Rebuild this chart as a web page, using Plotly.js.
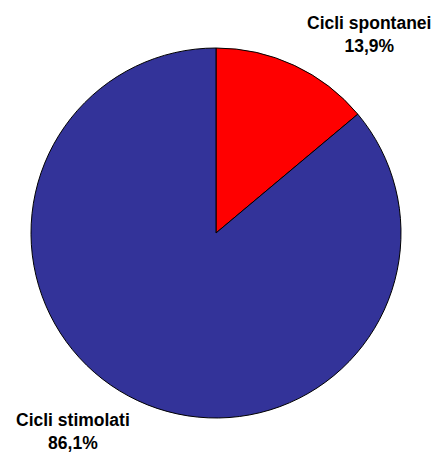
<!DOCTYPE html>
<html>
<head>
<meta charset="utf-8">
<script src="https://cdn.plot.ly/plotly-3.0.1.min.js"></script>
<style>
  html, body { margin: 0; padding: 0; background: #fff; }
  #chart { width: 439px; height: 454px; }
</style>
</head>
<body>
<div id="chart"></div>
<script>
// Data
const labels = ['Cicli spontanei', 'Cicli stimolati'];
const values = [13.9, 86.1];
const colors = ['#ff0000', '#333399'];

// Label positions (paper coords) for the outside labels
const labelX = [368.5 / 439, 72.5 / 439];
const labelY = [1 - 34 / 454, 1 - 431 / 454];

const fmt = v => v.toFixed(1).replace('.', ',') + '%';

const trace = {
    type: 'pie',
    labels: labels,
    values: values,
    sort: false,
    direction: 'clockwise',
    rotation: 0,
    textinfo: 'none',
    hoverinfo: 'none',
    showlegend: false,
    marker: { colors: colors, line: { color: '#000000', width: 1 } },
    domain: { x: [31 / 439, 401 / 439], y: [1 - 418 / 454, 1 - 48 / 454] }
};

const annotations = labels.map((l, i) => ({
    xref: 'paper', yref: 'paper',
    x: labelX[i], y: labelY[i],
    xanchor: 'center', yanchor: 'middle',
    showarrow: false,
    align: 'center',
    borderpad: 0,
    text: '<b>' + l + '<br>' + fmt(values[i]) + '</b>',
    font: { family: 'Liberation Sans, Arial, sans-serif', size: 17.5, color: '#000' }
}));

const layout = {
    width: 439,
    height: 454,
    margin: { l: 0, r: 0, t: 0, b: 0 },
    paper_bgcolor: '#ffffff',
    annotations: annotations
};

Plotly.newPlot('chart', [trace], layout, { displayModeBar: false, staticPlot: true });
</script>
</body>
</html>
